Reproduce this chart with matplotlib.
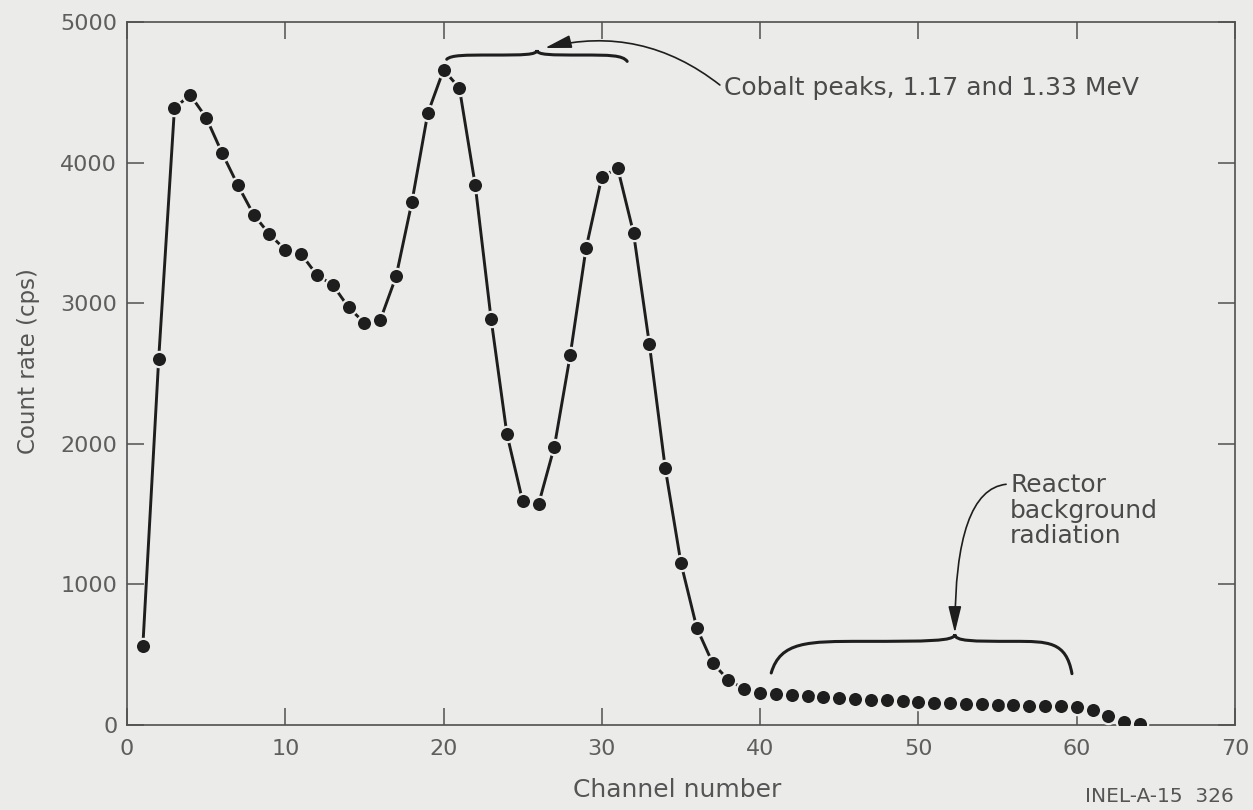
import numpy as np
import matplotlib
matplotlib.use("Agg")
import matplotlib.pyplot as plt
from matplotlib.path import Path
from matplotlib.patches import PathPatch

# ---- data ----
channels = np.arange(1, 65)
counts = [560, 2600, 4390, 4480, 4320, 4070, 3840, 3630, 3490, 3380,
          3350, 3200, 3130, 2970, 2860, 2880, 3190, 3720, 4350, 4660,
          4530, 3840, 2890, 2070, 1590, 1570, 1980, 2630, 3390, 3900,
          3960, 3500, 2710, 1830, 1150, 690, 440, 320, 255, 230,
          222, 212, 205, 198, 192, 186, 180, 175, 170, 164,
          159, 155, 150, 147, 144, 141, 138, 135, 132, 128,
          105, 65, 22, 5]
n_line = 39                      # connecting curve stops where the dots start touching
x_ticks = [0, 10, 20, 30, 40, 50, 60, 70]
y_ticks = [0, 1000, 2000, 3000, 4000, 5000]

BG = "#ebebe9"; INK = "#1e1e1e"; GREY = "#505050"
W, H = 1253, 810
plt.rcParams["font.family"] = ["DejaVu Sans"]

fig = plt.figure(figsize=(W/100, H/100), dpi=100, facecolor=BG)
ax = fig.add_axes([127/W, 1-725/H, (1235-127)/W, (725-22)/H], facecolor=BG)

ax.plot(channels[:n_line], counts[:n_line], "-", color=INK, lw=2.1, zorder=2)
ax.plot(channels, counts, "o", ms=11, mfc=INK, mec=BG, mew=1.6, zorder=3)

ax.set_xlim(0, 70); ax.set_ylim(0, 5000)
ax.set_xticks(x_ticks); ax.set_yticks(y_ticks)
ax.tick_params(direction="in", length=12, width=1.1, color=GREY, labelcolor="#5e5e5e",
               labelsize=16, top=True, right=True)
ax.tick_params(axis="x", pad=10)
ax.tick_params(axis="y", pad=7)
for s in ax.spines.values():
    s.set_color(GREY); s.set_linewidth(1.2)

fig.text(677/W, 1-790/H, "Channel number", ha="center", va="center", fontsize=18, color="#555555")
fig.text(29/W, 1-361/H, "Count rate (cps)", ha="center", va="center", rotation=90,
         fontsize=16.5, color="#555555")
fig.text(1085/W, 1-796/H, "INEL-A-15  326", ha="left", va="center", fontsize=14.5, color="#555555")


def brace(xl, yl, xc, yc, xr, yr, yb):
    # curly brace opening downward, cusp pointing up at xc
    ql = xl + 0.5*(xc-xl); qr = xc + 0.5*(xr-xc)
    verts = [(xl, yl),
             (xl + 0.05*(xc-xl), yb), (xl + 0.2*(xc-xl), yb), (ql, yb),
             (ql + 0.7*(xc-ql), yb), (xc, yb), (xc, yc),
             (xc, yb), (xc + 0.3*(qr-xc), yb), (qr, yb),
             (xr - 0.2*(xr-xc), yb), (xr - 0.05*(xr-xc), yb), (xr, yr)]
    codes = [Path.MOVETO] + [Path.CURVE4]*12
    return PathPatch(Path(verts, codes), fill=False, ec=INK, lw=2.2, capstyle="round")


# cobalt peaks brace + label
ax.add_patch(brace(20.2, 4735, 25.9, 4800, 31.6, 4720, 4765))
ax.annotate("Cobalt peaks, 1.17 and 1.33 MeV", xy=(26.4, 4815), xytext=(37.7, 4530),
            ha="left", va="center", fontsize=18, color="#4a4a4a",
            arrowprops=dict(arrowstyle="-|>,head_length=0.9,head_width=0.22", color=INK,
                            lw=1.2, relpos=(0, 0.5), shrinkA=1, shrinkB=0,
                            connectionstyle="arc3,rad=0.25"))

# reactor background brace + label
ax.add_patch(brace(40.7, 370, 52.3, 645, 59.7, 365, 595))
ax.annotate("Reactor\nbackground\nradiation", xy=(52.3, 655), xytext=(55.8, 1525),
            ha="left", va="center", fontsize=18, color="#4a4a4a", linespacing=1.1,
            arrowprops=dict(arrowstyle="-|>,head_length=0.9,head_width=0.22", color=INK,
                            lw=1.2, relpos=(0, 0.85), shrinkA=1, shrinkB=0,
                            connectionstyle="angle3,angleA=180,angleB=90"))

fig.savefig("out.png", dpi=100, facecolor=BG)
